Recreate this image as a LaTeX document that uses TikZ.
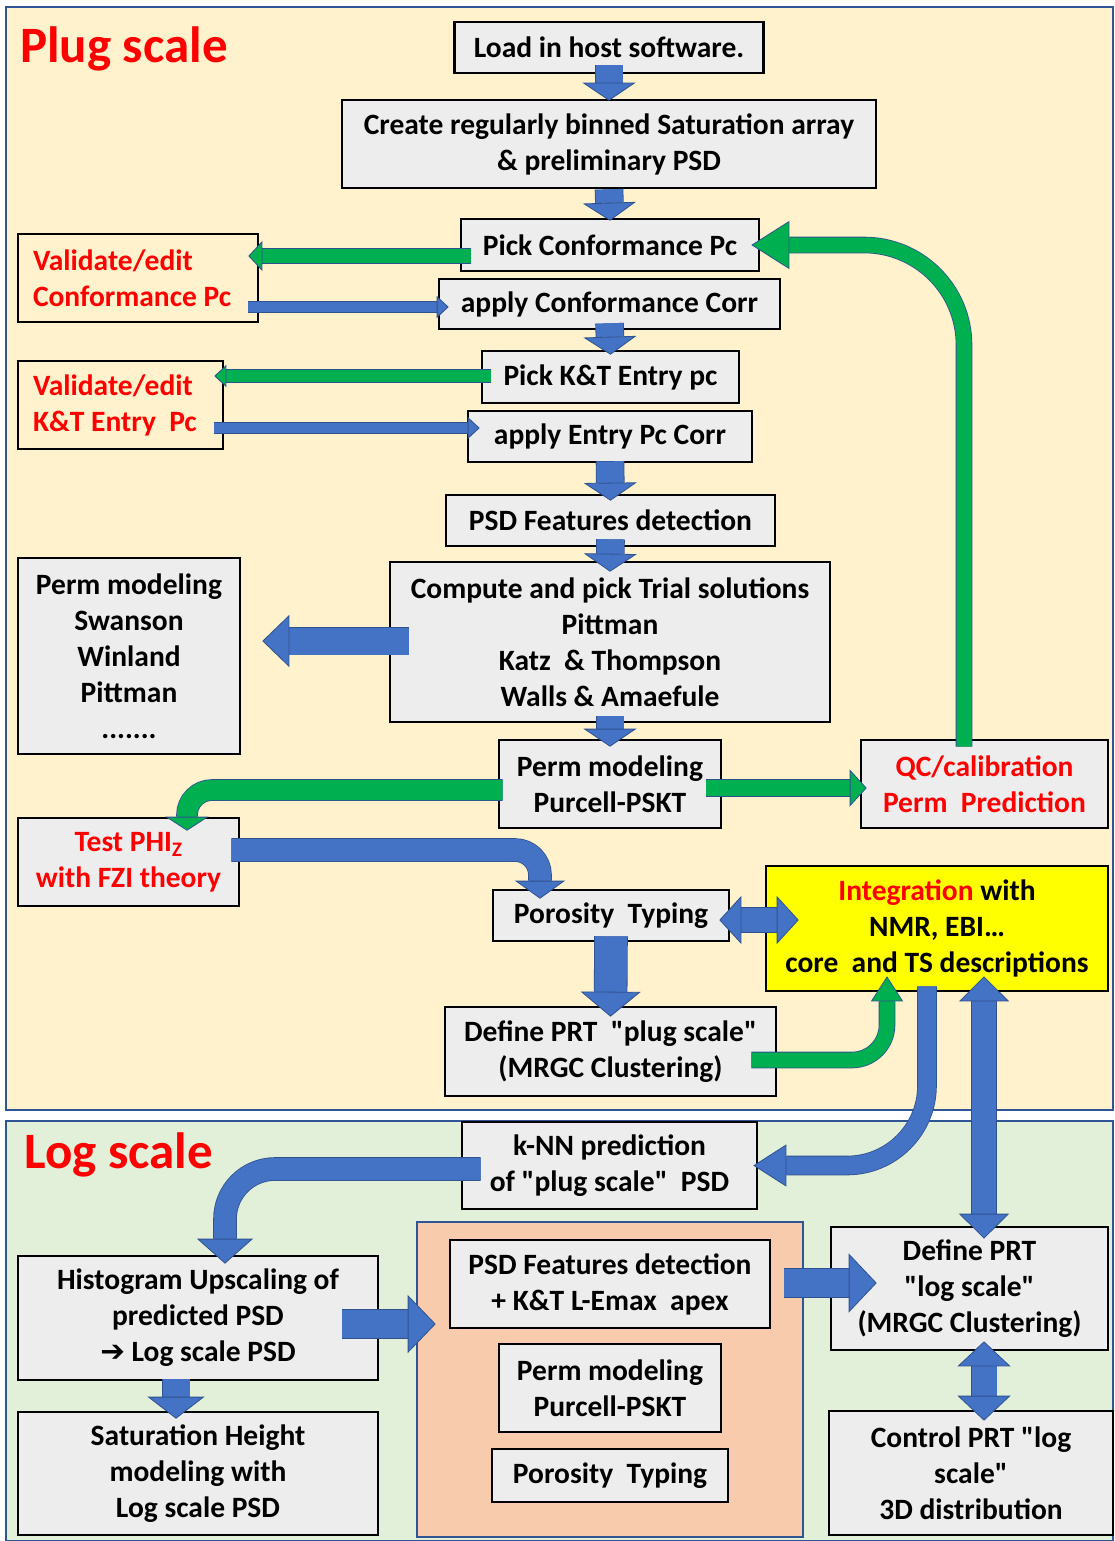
\documentclass[tikz,border=0pt]{standalone}
\usepackage{fontspec}
\setmainfont{Carlito}[Ligatures=TeXOff]
\newfontfamily\dingfont{DejaVu Sans}
\usetikzlibrary{arrows.meta}

\definecolor{sfondoplug}{HTML}{FFF2CC}
\definecolor{sfondolog}{HTML}{E2F0D9}
\definecolor{sfondoarancio}{HTML}{F8CBAD}
\definecolor{grigiobox}{HTML}{EDEDED}
\definecolor{bordoblu}{HTML}{2F5597}
\definecolor{frecciablu}{HTML}{4472C4}
\definecolor{bordofreccia}{HTML}{2F528F}
\definecolor{frecciaverde}{HTML}{00B050}
\definecolor{rosso}{HTML}{FF0000}
\definecolor{giallo}{HTML}{FFFF00}

\begin{document}
\begin{tikzpicture}[x=1pt, y=-1pt, font=\fontsize{29.5}{36}\selectfont\bfseries]

    % Stili: riquadri e frecce a blocco
    \tikzset{
        box/.style={draw=black, line width=2.6pt, fill=grigiobox, align=center, inner sep=0pt},
        nota/.style={box, fill=sfondoplug, text=rosso, align=flush left, inner xsep=15pt},
        pannello/.style={draw=bordoblu, line width=1.5pt},
        titolo/.style={anchor=base west, inner sep=0pt, text=rosso, font=\fontsize{51}{60}\selectfont\bfseries},
        freccia/.style n args={4}{draw=#1, line width=#2,
            -{Triangle[width=#3, length=#4, line width=0.8pt, fill=#1, color=bordofreccia]},
            preaction={draw=bordofreccia, line width=#2+1.6pt, -, shorten >=#4}},
        doppia/.style n args={3}{draw=frecciablu, line width=#1,
            {Triangle[width=#2, length=#3, line width=0.8pt, fill=frecciablu, color=bordofreccia]}-{Triangle[width=#2, length=#3, line width=0.8pt, fill=frecciablu, color=bordofreccia]},
            preaction={draw=bordofreccia, line width=#1+1.6pt, -, shorten >=#3, shorten <=#3}}
    }

    \useasboundingbox (0,0) rectangle (1115,1541);

    % Pannelli di sfondo
    \draw[pannello, fill=sfondoplug] (6,7) rectangle (1113,1110);
    \draw[pannello, fill=sfondolog] (6,1121) rectangle (1113,1541);
    \draw[pannello, fill=sfondoarancio] (417,1222) rectangle (803,1537);

    \node[titolo] (plug) at (20,63) {Plug scale};
    \node[titolo] (logs) at (24,1168) {Log scale};

    % Colonna centrale (plug scale)
    \node[box, minimum width=309pt, minimum height=51pt] (load) at (609,47.5) {Load in host software.};
    \node[box, minimum width=534pt, minimum height=88pt] (create) at (609,144) {Create regularly binned Saturation array\\\& preliminary PSD};
    \node[box, minimum width=298pt, minimum height=52pt] (pickconf) at (610,245) {Pick Conformance Pc};
    \node[box, minimum width=341pt, minimum height=50pt] (applyconf) at (609.5,304) {apply Conformance Corr};
    \node[box, minimum width=257pt, minimum height=52pt] (pickkt) at (610.5,377) {Pick K\&T Entry pc};
    \node[box, minimum width=284pt, minimum height=51pt] (applykt) at (610,436.5) {apply Entry Pc Corr};
    \node[box, minimum width=329pt, minimum height=51pt] (psdfeat) at (610.5,520.5) {PSD Features detection};
    \node[box, minimum width=440pt, minimum height=160pt] (compute) at (610,642) {Compute and pick Trial solutions\\Pittman\\Katz~~\& Thompson\\Walls \& Amaefule};
    \node[box, minimum width=222pt, minimum height=88pt] (purcell) at (610,784) {Perm modeling\\Purcell-PSKT};
    \node[box, minimum width=236pt, minimum height=51pt] (porosity) at (611,915.5) {Porosity~~Typing};
    \node[box, minimum width=331pt, minimum height=89pt] (defplug) at (610.5,1051.5) {Define PRT ~"plug scale"\\(MRGC Clustering)};

    % Riquadri laterali
    \node[nota, text width=210pt, minimum height=88pt] (valconf) at (138,278) {Validate/edit\\Conformance Pc};
    \node[nota, text width=175pt, minimum height=88pt] (valkt) at (120.5,405) {Validate/edit\\K\&T Entry~~Pc};
    \node[box, minimum width=222pt, minimum height=196pt] (permmod) at (129,656) {Perm modeling\\Swanson\\Winland\\Pittman\\.......};
    \node[box, text=rosso, minimum width=247pt, minimum height=88pt] (qc) at (984.5,784) {QC/calibration\\Perm~~Prediction};
    \node[box, text=rosso, minimum width=221pt, minimum height=88pt] (testphi) at (128.5,862) {Test PHI\textsubscript{Z}\\with FZI theory};
    \node[box, fill=giallo, minimum width=342pt, minimum height=125pt] (integr) at (937,928.5) {{\color{rosso}Integration} with\\NMR, EBI…\\core~~and TS descriptions};

    % Log scale
    \node[box, minimum width=295pt, minimum height=87pt] (knn) at (609.5,1165.5) {k-NN prediction\\of "plug scale"~~PSD};
    \node[box, minimum width=360pt, minimum height=124pt] (histo) at (198,1318) {Histogram Upscaling of\\predicted PSD\\{\dingfont ➔} Log scale PSD};
    \node[box, minimum width=360pt, minimum height=123pt] (sathgt) at (198,1473.5) {Saturation Height\\modeling with\\Log scale PSD};
    \node[box, minimum width=320pt, minimum height=88pt] (psdfeat2) at (610,1284) {PSD Features detection\\+ K\&T L-Emax~~apex};
    \node[box, minimum width=222pt, minimum height=88pt] (perm2) at (610,1388) {Perm modeling\\Purcell-PSKT};
    \node[box, minimum width=236pt, minimum height=53pt] (poro2) at (610,1475.5) {Porosity~~Typing};
    \node[box, minimum width=277pt, minimum height=123pt] (defprt) at (969.5,1288.5) {Define PRT\\"log scale"\\(MRGC Clustering)};
    \node[box, minimum width=284pt, minimum height=124pt] (ctrl) at (971,1473) {Control PRT "log\\scale"\\3D distribution};

    % Frecce verticali della colonna centrale
    \draw[freccia={frecciablu}{27pt}{53pt}{18pt}] ([yshift=9pt]load.south) -- ([yshift=-2pt]create.north);
    \draw[freccia={frecciablu}{27pt}{53pt}{18pt}] (create.south) -- ([yshift=-3pt]pickconf.north);
    \draw[freccia={frecciablu}{27pt}{53pt}{18pt}] ([yshift=7pt]applyconf.south) -- ([yshift=-5pt]pickkt.north);
    \draw[freccia={frecciablu}{27pt}{53pt}{18pt}] ([yshift=2pt]applykt.south) -- ([yshift=-7pt]psdfeat.north);
    \draw[freccia={frecciablu}{27pt}{53pt}{18pt}] ([yshift=8pt]psdfeat.south) -- ([yshift=-11pt]compute.north);
    \draw[freccia={frecciablu}{27pt}{53pt}{18pt}] ([yshift=7pt]compute.south) -- ([yshift=-8pt]purcell.north);
    \draw[freccia={frecciablu}{32pt}{60pt}{25pt}] ([yshift=6pt]porosity.south) -- ([yshift=-11pt]defplug.north);

    % Validazione dei Pc
    \draw[freccia={frecciaverde}{14pt}{30pt}{14pt}] ([xshift=11pt,yshift=-11pt]pickconf.west) -- ([xshift=-11pt,yshift=22pt]valconf.east);
    \draw[freccia={frecciablu}{10pt}{22pt}{12pt}] ([xshift=-11pt,yshift=-29pt]valconf.east) -- ([xshift=11pt,yshift=-3pt]applyconf.west);
    \draw[freccia={frecciaverde}{12pt}{22pt}{12pt}] ([xshift=10pt,yshift=1pt]pickkt.west) -- ([xshift=-10pt,yshift=29pt]valkt.east);
    \draw[freccia={frecciablu}{10pt}{22pt}{12pt}] ([xshift=-10pt,yshift=-23pt]valkt.east) -- ([xshift=13pt,yshift=8.5pt]applykt.west);

    % Modelli di permeabilita'
    \draw[freccia={frecciablu}{27pt}{52pt}{27pt}] ([xshift=20pt,yshift=1pt]compute.west) -- ([xshift=21pt,yshift=15pt]permmod.east);
    \draw[freccia={frecciaverde}{20pt}{43pt}{14pt}, rounded corners=25pt] ([xshift=5pt,yshift=-6pt]purcell.west) -| ([xshift=58.5pt,yshift=-14pt]testphi.north);
    \draw[freccia={frecciaverde}{16pt}{37pt}{17pt}] ([xshift=-16pt,yshift=-4pt]purcell.east) -- ([xshift=7pt,yshift=-4pt]qc.west);
    \draw[freccia={frecciaverde}{15pt}{48pt}{38pt}, rounded corners=100pt] ([xshift=-20.5pt,yshift=-8pt]qc.north) |- ([xshift=-9pt]pickconf.east);
    \draw[freccia={frecciablu}{22pt}{50pt}{18pt}, rounded corners=25pt] ([xshift=-9pt,yshift=12pt]testphi.east) -| ([xshift=-71pt,yshift=-10pt]porosity.north);

    % Integrazione
    \draw[doppia={24pt}{48pt}{22pt}] ([xshift=-11pt,yshift=-4.5pt]porosity.east) -- ([xshift=34pt,yshift=8.5pt]integr.west);
    \draw[freccia={frecciaverde}{15pt}{32pt}{25pt}, rounded corners=35pt] ([xshift=-26pt,yshift=-8.5pt]defplug.east) -| ([xshift=-50pt,yshift=16pt]integr.south);
    \draw[freccia={frecciablu}{18pt}{42pt}{33pt}, rounded corners=80pt] ([xshift=-10pt,yshift=6pt]integr.south) |- ([xshift=-5pt]knn.east);
    \draw[doppia={24pt}{50pt}{25pt}] ([xshift=47pt,yshift=16pt]integr.south) -- ([xshift=14.5pt,yshift=-13pt]defprt.north);

    % Frecce della log scale
    \draw[freccia={frecciablu}{22pt}{56pt}{25pt}, rounded corners=50pt] ([xshift=20pt,yshift=-3.5pt]knn.west) -| ([xshift=27pt,yshift=-9pt]histo.north);
    \draw[freccia={frecciablu}{28pt}{58pt}{28pt}] ([xshift=-37pt,yshift=-6pt]histo.east) -- ([xshift=-13pt,yshift=-40pt]psdfeat2.west);
    \draw[freccia={frecciablu}{27pt}{57pt}{22pt}] ([xshift=-22pt,yshift=2pt]histo.south) -- ([xshift=-22pt,yshift=-8pt]sathgt.north);
    \draw[freccia={frecciablu}{28pt}{59pt}{28pt}] ([xshift=13pt,yshift=1pt]psdfeat2.east) -- ([xshift=47pt,yshift=5.5pt]defprt.west);
    \draw[doppia={25pt}{53pt}{25pt}] ([xshift=14.5pt,yshift=10pt]defprt.south) -- ([xshift=13pt,yshift=-11pt]ctrl.north);

\end{tikzpicture}
\end{document}
